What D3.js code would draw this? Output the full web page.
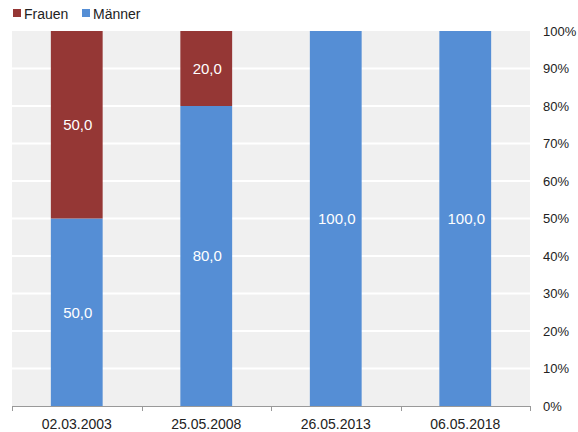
<!DOCTYPE html>
<html lang="de">
<head>
  <meta charset="UTF-8">
  <title>Frauen / Männer</title>
  <script src="https://d3js.org/d3.v7.min.js"></script>
  <style>
    body { margin: 0; background: #fff; font-family: "Liberation Sans", Arial, sans-serif; }
    svg text { font-family: "Liberation Sans", Arial, sans-serif; }
  </style>
</head>
<body>
  <div id="chart"></div>
  <script>
    const dates = ['02.03.2003', '25.05.2008', '26.05.2013', '06.05.2018'];
    const maenner = [50, 80, 100, 100];
    const frauen = [50, 20, 0, 0];
    const ticks = [0, 10, 20, 30, 40, 50, 60, 70, 80, 90, 100];

    const width = 578, height = 432;
    const plotLeft = 12, plotRight = 530, plotTop = 31, plotBottom = 406;
    const colors = { Frauen: '#953735', 'Männer': '#558ed5' };

    const svg = d3.select('#chart').append('svg')
      .attr('width', width).attr('height', height);

    const x = d3.scaleBand().domain(dates).range([plotLeft, plotRight])
      .paddingInner(0.6).paddingOuter(0.3);
    const y = d3.scaleLinear().domain([0, 100]).range([plotBottom, plotTop]);

    // plot background + gridlines
    svg.append('rect')
      .attr('x', plotLeft).attr('y', plotTop)
      .attr('width', plotRight - plotLeft).attr('height', plotBottom - plotTop)
      .attr('fill', '#f0f0f0');
    svg.selectAll('line.grid').data(ticks.slice(1, -1)).enter()
      .append('line').attr('class', 'grid')
      .attr('x1', plotLeft).attr('x2', plotRight)
      .attr('y1', d => y(d)).attr('y2', d => y(d))
      .attr('stroke', '#fff').attr('stroke-width', 2);

    const rows = dates.map((d, i) => ({ date: d, 'Männer': maenner[i], Frauen: frauen[i] }));
    const stack = d3.stack().keys(['Männer', 'Frauen'])(rows);

    stack.forEach(s => {
      svg.append('g').selectAll('rect').data(s).enter()
        .append('rect')
        .attr('x', d => x(d.data.date))
        .attr('width', x.bandwidth())
        .attr('y', d => y(d[1]))
        .attr('height', d => y(d[0]) - y(d[1]))
        .attr('fill', colors[s.key]);

      svg.append('g').selectAll('text').data(s.filter(d => d[1] - d[0] > 0)).enter()
        .append('text')
        .attr('x', d => x(d.data.date) + x.bandwidth() / 2 + 1)
        .attr('y', d => y((d[0] + d[1]) / 2))
        .attr('dy', '0.35em')
        .attr('text-anchor', 'middle')
        .attr('fill', '#fff')
        .style('font-size', '15px')
        .text(d => (d[1] - d[0]).toFixed(1).replace('.', ','));
    });

    // x axis
    svg.append('line')
      .attr('x1', plotLeft).attr('x2', plotRight)
      .attr('y1', plotBottom + 0.5).attr('y2', plotBottom + 0.5)
      .attr('stroke', '#999');
    const edges = [plotLeft].concat(dates.slice(1).map(d => x(d) - (x.step() - x.bandwidth()) / 2), [plotRight]);
    svg.selectAll('line.xt').data(edges).enter()
      .append('line').attr('class', 'xt')
      .attr('x1', d => Math.round(d) + 0.5).attr('x2', d => Math.round(d) + 0.5)
      .attr('y1', plotBottom).attr('y2', plotBottom + 5)
      .attr('stroke', '#999');
    svg.selectAll('text.xl').data(dates).enter()
      .append('text').attr('class', 'xl')
      .attr('x', d => x(d) + x.bandwidth() / 2)
      .attr('y', 429)
      .attr('text-anchor', 'middle')
      .attr('fill', '#222')
      .style('font-size', '14px')
      .text(d => d);

    // y labels on the right
    svg.selectAll('text.yl').data(ticks).enter()
      .append('text').attr('class', 'yl')
      .attr('x', 543)
      .attr('y', d => y(d))
      .attr('dy', '0.35em')
      .attr('fill', '#222')
      .style('font-size', '13px')
      .text(d => d + '%');

    // legend
    const legend = [['Frauen', 13], ['Männer', 82]];
    legend.forEach(([k, lx]) => {
      svg.append('rect').attr('x', lx).attr('y', 9).attr('width', 8).attr('height', 8)
        .attr('fill', colors[k]);
      svg.append('text').attr('x', lx + 11).attr('y', 19)
        .attr('fill', '#222').style('font-size', '14px').text(k);
    });
  </script>
</body>
</html>
